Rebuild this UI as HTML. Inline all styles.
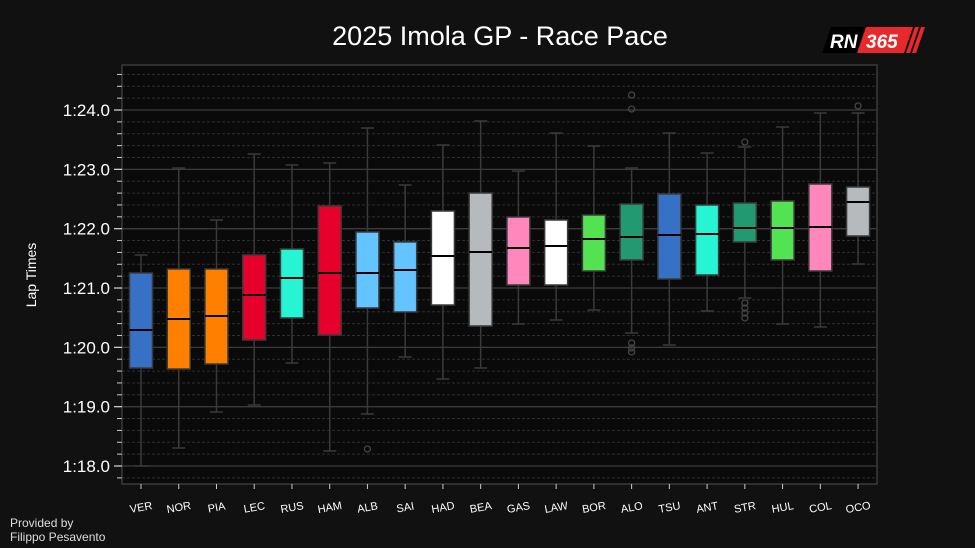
<!DOCTYPE html>
<html><head><meta charset="utf-8"><style>
html,body{margin:0;padding:0;background:#111;width:975px;height:548px;overflow:hidden}
svg{display:block;font-family:"Liberation Sans",sans-serif}
</style></head><body>
<svg id="s" width="975" height="548" xmlns="http://www.w3.org/2000/svg">
<rect width="975" height="548" fill="#111"/>
<rect x="122" y="65" width="755" height="419" fill="#0a0a0a" stroke="#3a3a3a" stroke-width="1.5"/>
<g id="grid"></g>
<g id="boxes"></g>
<text x="500" y="45" fill="#fff" font-size="27" text-anchor="middle">2025 Imola GP - Race Pace</text>
<text x="36" y="275" fill="#fff" font-size="14" text-anchor="middle" transform="rotate(-90 36 275)">Lap Times</text>
<text x="10" y="527" fill="#ddd" font-size="12">Provided by</text>
<text x="10" y="541" fill="#ddd" font-size="12">Filippo Pesavento</text>
<g>
<polygon points="831,27 866,27 857,53 822,53" fill="#000"/>
<polygon points="866,27 913,27 904,53 857,53" fill="#e8292b"/>
<polygon points="915,27 919,27 910,53 906,53" fill="#e8292b"/>
<polygon points="921,27 925,27 916,53 912,53" fill="#e8292b"/>
<text x="830" y="48" fill="#fff" font-size="19" font-weight="bold" font-style="italic">RN</text>
<text x="866" y="48" fill="#fff" font-size="19" font-weight="bold" font-style="italic">365</text>
</g>
</svg>
<script>
var NS="http://www.w3.org/2000/svg";
function el(p,t,a,txt){var e=document.createElementNS(NS,t);for(var k in a)e.setAttribute(k,a[k]);if(txt)e.textContent=txt;p.appendChild(e);return e;}
var g=document.getElementById('grid');
function Y(v){return 466-(v-78)*59.33;}
for(var v=77.2;v<=84.8;v+=0.2){var y=Y(v);if(y<66||y>483)continue;var major=Math.abs(v-Math.round(v))<0.01;
 if(major){el(g,'line',{x1:122,x2:877,y1:y,y2:y,stroke:'#3c3c3c','stroke-width':1.3});
  el(g,'line',{x1:114,x2:122,y1:y,y2:y,stroke:'#ccc','stroke-width':1.3});
  var s=Math.round(v)-60;el(g,'text',{x:110,y:y+6,fill:'#fff','font-size':17,'text-anchor':'end'},'1:'+s+'.0');}
 else{el(g,'line',{x1:122,x2:877,y1:y,y2:y,stroke:'#2e2e2e','stroke-width':1,'stroke-dasharray':'3,2'});
  el(g,'line',{x1:117,x2:122,y1:y,y2:y,stroke:'#ccc','stroke-width':1});}}
var D=[["VER","#3671C6",255,273,330,368,466,[]],["NOR","#FF8000",168,269,319,369,448,[]],["PIA","#FF8000",220,269,316,364,412,[]],["LEC","#E8002D",154,255,295,340,405,[]],["RUS","#27F4D2",165,249,278,318,363,[]],["HAM","#E8002D",163,206,273,335,451,[]],["ALB","#64C4FF",128,232,273,308,414,[449]],["SAI","#64C4FF",185,242,270,312,357,[]],["HAD","#FFFFFF",145,211,256,305,379,[]],["BEA","#B6BABD",121,193,252,326,368,[]],["GAS","#FF87BC",171,217,248,285,324,[]],["LAW","#FFFFFF",133,220,246,285,320,[]],["BOR","#52E252",146,215,239,271,310,[]],["ALO","#229971",168,204,237,260,333,[95,109,343,348,352]],["TSU","#3671C6",133,194,235,279,345,[]],["ANT","#27F4D2",153,205,234,275,311,[]],["STR","#229971",147,203,228,242,298,[142,303,308,313,318]],["HUL","#52E252",127,201,228,260,324,[]],["COL","#FF87BC",113,184,227,271,327,[]],["OCO","#B6BABD",113,187,202,236,264,[106]]];
var b=document.getElementById('boxes');
D.forEach(function(d,i){var c=141+i*37.74,w=23,st='#3a3a3a';
 el(b,'line',{x1:c,x2:c,y1:d[2],y2:d[3],stroke:st,'stroke-width':1.5});
 el(b,'line',{x1:c,x2:c,y1:d[5],y2:d[6],stroke:st,'stroke-width':1.5});
 el(b,'line',{x1:c-6.5,x2:c+6.5,y1:d[2],y2:d[2],stroke:st,'stroke-width':1.5});
 el(b,'line',{x1:c-6.5,x2:c+6.5,y1:d[6],y2:d[6],stroke:st,'stroke-width':1.5});
 el(b,'rect',{x:c-w/2,y:d[3],width:w,height:d[5]-d[3],fill:d[1],stroke:st,'stroke-width':1.5});
 el(b,'line',{x1:c-w/2,x2:c+w/2,y1:d[4],y2:d[4],stroke:'#000','stroke-width':2});
 d[7].forEach(function(o){el(b,'circle',{cx:c,cy:o,r:3,fill:'none',stroke:'#444','stroke-width':1.3});});
 el(b,'line',{x1:c,x2:c,y1:484,y2:489,stroke:'#ccc','stroke-width':1});
 el(b,'text',{x:c,y:511,fill:'#fff','font-size':11,'text-anchor':'middle',transform:'rotate(-10 '+c+' 507)'},d[0]);
});
</script>
</body></html>
